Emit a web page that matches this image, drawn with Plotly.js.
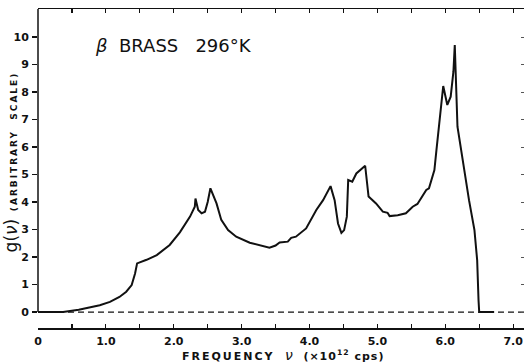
<!DOCTYPE html>
<html>
<head>
<meta charset="utf-8">
<script src="https://cdn.plot.ly/plotly-3.0.1.min.js"></script>
<style>
  html, body { margin: 0; padding: 0; background: #fff; }
  #chart { width: 526px; height: 364px; }
</style>
</head>
<body>
<div id="chart"></div>
<script>
// Frequency distribution g(nu) of beta brass at 296 K
const frequency = [0, 0.37, 0.6, 0.91, 1.06, 1.20, 1.30, 1.38, 1.43, 1.46, 1.60, 1.75, 1.94, 2.09,
  2.24, 2.31, 2.32, 2.36, 2.41, 2.46, 2.50, 2.54, 2.63, 2.70, 2.80, 2.92, 3.12, 3.26, 3.41,
  3.50, 3.56, 3.68, 3.73, 3.80, 3.95, 4.10, 4.20, 4.31, 4.37, 4.42, 4.47, 4.51, 4.55, 4.57,
  4.63, 4.69, 4.76, 4.82, 4.87, 4.98, 5.08, 5.15, 5.18, 5.30, 5.42, 5.52, 5.59, 5.72, 5.76,
  5.84, 5.87, 5.92, 5.97, 6.03, 6.08, 6.12, 6.14, 6.18, 6.23, 6.25, 6.35, 6.43, 6.47, 6.49,
  6.50, 6.72];
const density = [0, 0.0, 0.08, 0.25, 0.37, 0.55, 0.74, 0.98, 1.40, 1.77, 1.90, 2.07, 2.44, 2.90,
  3.47, 3.83, 4.13, 3.71, 3.59, 3.65, 4.00, 4.50, 3.95, 3.35, 2.98, 2.74, 2.52, 2.44, 2.34,
  2.42, 2.53, 2.56, 2.70, 2.74, 3.04, 3.71, 4.07, 4.58, 4.07, 3.22, 2.88, 2.98, 3.47, 4.80,
  4.74, 5.04, 5.18, 5.32, 4.20, 3.95, 3.65, 3.61, 3.49, 3.52, 3.59, 3.83, 3.93, 4.44, 4.50,
  5.16, 5.89, 7.10, 8.22, 7.53, 7.83, 8.74, 9.71, 6.74, 5.95, 5.65, 4.07, 2.98, 1.89, 0.44,
  0, 0];

const xTickVals = [0, 1, 2, 3, 4, 5, 6, 7];
const xTickText = ['0', '1.0', '2.0', '3.0', '4.0', '5.0', '6.0', '7.0'];
const yTickVals = [0, 1, 2, 3, 4, 5, 6, 7, 8, 9, 10];

const X_RANGE = [0, 7.16];
const Y_RANGE = [-0.58, 11.02];
const INK = '#111';
const FONT = 'DejaVu Sans, Liberation Sans, sans-serif';

const traces = [
  {
    x: frequency, y: density, type: 'scatter', mode: 'lines',
    line: { color: INK, width: 2, shape: 'linear' },
    hoverinfo: 'x+y', showlegend: false
  },
  {
    // carrier for the top and right tick frames
    x: [null], y: [null], xaxis: 'x2', yaxis: 'y2', type: 'scatter', mode: 'lines',
    hoverinfo: 'skip', showlegend: false
  }
];

const layout = {
  width: 526, height: 364,
  margin: { l: 38, r: 2, t: 9, b: 36 },
  paper_bgcolor: '#fff', plot_bgcolor: '#fff',
  font: { family: FONT, color: INK },
  showlegend: false,
  xaxis: {
    range: X_RANGE, showgrid: false, zeroline: false,
    showline: true, linecolor: INK, linewidth: 1.5,
    ticks: 'inside', ticklen: 4, tickwidth: 1.2, tickcolor: INK,
    tickvals: xTickVals, ticktext: xTickText,
    tickfont: { family: FONT, size: 11, color: INK, weight: 'bold' },
    minor: { dtick: 0.5, tick0: 0, ticks: 'inside', ticklen: 4, tickwidth: 1.2, tickcolor: INK, showgrid: false },
    ticklabelstandoff: 2,
    fixedrange: true
  },
  xaxis2: {
    overlaying: 'x', side: 'top', range: X_RANGE, showgrid: false, zeroline: false,
    showline: true, linecolor: INK, linewidth: 1.5,
    ticks: 'inside', ticklen: 4, tickwidth: 1.2, tickcolor: INK,
    tick0: 0, dtick: 0.5, showticklabels: false, fixedrange: true
  },
  yaxis: {
    range: Y_RANGE, showgrid: false, zeroline: false, showline: false,
    ticks: 'outside', ticklen: 5, tickwidth: 1.5, tickcolor: INK,
    tickvals: yTickVals,
    tickfont: { family: FONT, size: 11, color: INK, weight: 'bold' },
    ticklabelstandoff: 1,
    fixedrange: true
  },
  yaxis2: {
    overlaying: 'y', side: 'right', range: Y_RANGE, showgrid: false, zeroline: false,
    showline: false, ticks: 'inside', ticklen: 3, tickwidth: 1, tickcolor: '#555',
    tickvals: yTickVals, showticklabels: false, fixedrange: true
  },
  shapes: [
    // zero baseline
    { type: 'line', xref: 'paper', yref: 'y', x0: 0, x1: 1, y0: 0, y1: 0,
      line: { color: INK, width: 1.2, dash: '6px,4px' }, layer: 'below' },
    // left frame line, from the baseline up to the top edge
    { type: 'line', xref: 'paper', yref: 'y', x0: 0, x1: 0, y0: 0, y1: Y_RANGE[1],
      line: { color: INK, width: 1.5 } }
  ],
  annotations: [
    {
      text: '<i>β</i>  BRASS   296°K',
      xref: 'x', yref: 'y', x: 1.99, y: 9.71, showarrow: false,
      font: { family: FONT, size: 18, color: INK }
    },
    {
      text: '<span style="font-size:17px">g(<i>ν</i>)</span>  <span style="font-size:9px;font-weight:bold;letter-spacing:2px">(ARBITRARY  SCALE)</span>',
      xref: 'paper', yref: 'paper', x: -0.055, y: 0.52, xanchor: 'center', yanchor: 'middle',
      textangle: -90, showarrow: false,
      font: { family: FONT, size: 12, color: INK }
    },
    {
      text: '<span style="letter-spacing:2px;font-weight:bold">FREQUENCY</span>   <i style="font-size:14px">ν</i>   <span style="font-weight:bold;letter-spacing:1px">(×10<sup>12</sup> cps)</span>',
      xref: 'paper', yref: 'paper', x: 0.505, y: -0.086, xanchor: 'center', yanchor: 'middle',
      showarrow: false,
      font: { family: FONT, size: 11, color: INK }
    }
  ]
};

Plotly.newPlot('chart', traces, layout, { displayModeBar: false, staticPlot: true });
</script>
</body>
</html>
